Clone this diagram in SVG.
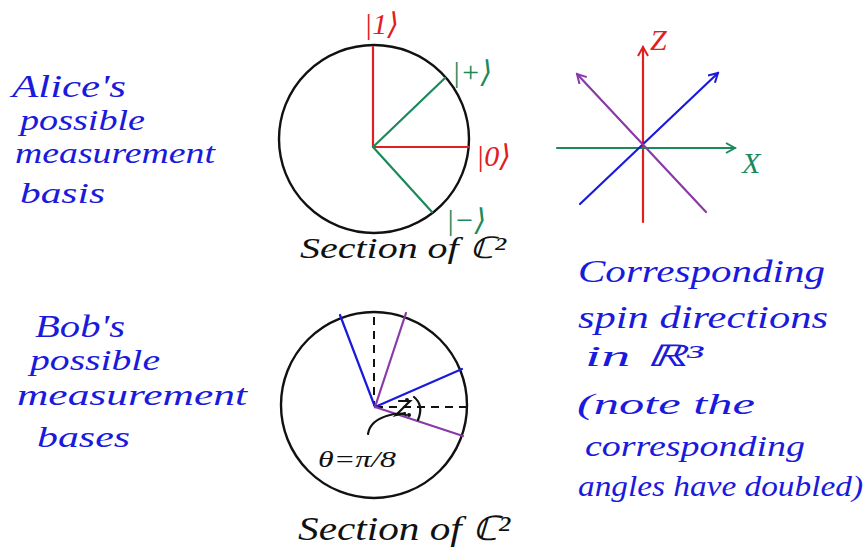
<svg xmlns="http://www.w3.org/2000/svg" width="865" height="553" viewBox="0 0 865 553">
<defs>
<style>
.hand{font-family:"Liberation Serif","DejaVu Serif",serif;font-style:italic}
.blue{fill:#1a1adc}
.red{fill:#e02020}
.green{fill:#1a8a5a}
.blk{fill:#111}
.ln{fill:none;stroke-width:2.2;stroke-linecap:round}
.circ{fill:none;stroke:#111;stroke-width:2.4}
.dash{fill:none;stroke:#111;stroke-width:2;stroke-dasharray:8 6}
</style>
<marker id="ah-r" viewBox="0 0 12 12" refX="10" refY="6" markerWidth="12" markerHeight="12" markerUnits="userSpaceOnUse" orient="auto"><path d="M1,1 L10,6 L1,11" fill="none" stroke="#e02020" stroke-width="2"/></marker>
<marker id="ah-g" viewBox="0 0 12 12" refX="10" refY="6" markerWidth="12" markerHeight="12" markerUnits="userSpaceOnUse" orient="auto"><path d="M1,1 L10,6 L1,11" fill="none" stroke="#1a8a5a" stroke-width="2"/></marker>
<marker id="ah-b" viewBox="0 0 12 12" refX="10" refY="6" markerWidth="12" markerHeight="12" markerUnits="userSpaceOnUse" orient="auto"><path d="M1,1 L10,6 L1,11" fill="none" stroke="#1a1adc" stroke-width="2"/></marker>
<marker id="ah-p" viewBox="0 0 12 12" refX="10" refY="6" markerWidth="12" markerHeight="12" markerUnits="userSpaceOnUse" orient="auto"><path d="M1,1 L10,6 L1,11" fill="none" stroke="#8a3aa8" stroke-width="2"/></marker>
</defs>
<rect width="865" height="553" fill="#fff"/>

<g id="alice-label" class="hand blue">
<text x="12" y="97" font-size="32" textLength="114" lengthAdjust="spacingAndGlyphs">Alice's</text>
<text x="20" y="130" font-size="30" textLength="125" lengthAdjust="spacingAndGlyphs">possible</text>
<text x="15" y="163" font-size="30" textLength="200" lengthAdjust="spacingAndGlyphs">measurement</text>
<text x="20" y="203" font-size="30" textLength="85" lengthAdjust="spacingAndGlyphs">basis</text>
</g>

<g id="bob-label" class="hand blue">
<text x="35" y="337" font-size="32" textLength="90" lengthAdjust="spacingAndGlyphs">Bob's</text>
<text x="30" y="370" font-size="30" textLength="130" lengthAdjust="spacingAndGlyphs">possible</text>
<text x="17" y="405" font-size="30" textLength="230" lengthAdjust="spacingAndGlyphs">measurement</text>
<text x="37" y="447" font-size="30" textLength="93" lengthAdjust="spacingAndGlyphs">bases</text>
</g>

<g id="alice-circle">
<ellipse class="circ" cx="374" cy="139" rx="95" ry="94"/>
<line class="ln" stroke="#e02020" x1="373" y1="147" x2="373" y2="47"/>
<line class="ln" stroke="#e02020" x1="373" y1="147" x2="469" y2="147"/>
<line class="ln" stroke="#1a8a5a" x1="373" y1="147" x2="445" y2="78"/>
<line class="ln" stroke="#1a8a5a" x1="373" y1="147" x2="432" y2="212"/>
<text class="hand red" x="364" y="34" font-size="30">|1⟩</text>
<text class="hand green" x="452" y="82" font-size="30">|+⟩</text>
<text class="hand red" x="476" y="166" font-size="30">|0⟩</text>
<text class="hand green" x="446" y="230" font-size="30">|−⟩</text>
<text class="hand blk" x="300" y="258" font-size="30" textLength="206" lengthAdjust="spacingAndGlyphs">Section of ℂ²</text>
</g>

<g id="bob-circle">
<circle class="circ" cx="374" cy="405" r="93"/>
<line class="dash" x1="374" y1="317" x2="374" y2="406"/>
<line class="dash" x1="375" y1="407" x2="466" y2="407"/>
<line class="ln" stroke="#1a1adc" x1="375" y1="407" x2="340" y2="315"/>
<line class="ln" stroke="#8a3aa8" x1="375" y1="407" x2="406" y2="313"/>
<line class="ln" stroke="#1a1adc" x1="375" y1="407" x2="462" y2="369"/>
<line class="ln" stroke="#8a3aa8" x1="375" y1="407" x2="463" y2="436"/>
<path class="ln" stroke="#111" d="M414,397 Q424,405 418,420"/>
<circle cx="407" cy="400" r="2" fill="#111"/>
<circle cx="409" cy="415" r="2" fill="#111"/>
<path class="ln" stroke="#111" d="M399,401 L410,401 L396,415 L405,413"/>
<path class="ln" stroke="#111" d="M368,434 Q370,420 390,415 Q400,412 406,415"/>
<text class="hand blk" x="318" y="467" font-size="24" textLength="78" lengthAdjust="spacingAndGlyphs">θ=π/8</text>
<text class="hand blk" x="298" y="540" font-size="34" textLength="212" lengthAdjust="spacingAndGlyphs">Section of ℂ²</text>
</g>

<g id="axes">
<line class="ln" stroke="#e02020" x1="643" y1="222" x2="643" y2="47" marker-end="url(#ah-r)"/>
<line class="ln" stroke="#1a8a5a" x1="557" y1="148" x2="735" y2="148" marker-end="url(#ah-g)"/>
<line class="ln" stroke="#1a1adc" x1="580" y1="204" x2="718" y2="73" marker-end="url(#ah-b)"/>
<line class="ln" stroke="#8a3aa8" x1="706" y1="212" x2="577" y2="74" marker-end="url(#ah-p)"/>
<text class="hand red" x="650" y="50" font-size="30">Z</text>
<text class="hand green" x="742" y="173" font-size="30">X</text>
</g>

<g id="spin-label" class="hand blue">
<text x="578" y="282" font-size="32" textLength="247" lengthAdjust="spacingAndGlyphs">Corresponding</text>
<text x="578" y="328" font-size="32" textLength="250" lengthAdjust="spacingAndGlyphs">spin directions</text>
<text x="585" y="366" font-size="30" textLength="118" lengthAdjust="spacingAndGlyphs">in ℝ³</text>
<text x="577" y="414" font-size="30" textLength="178" lengthAdjust="spacingAndGlyphs">(note the</text>
<text x="585" y="456" font-size="30" textLength="220" lengthAdjust="spacingAndGlyphs">corresponding</text>
<text x="578" y="496" font-size="30" textLength="285" lengthAdjust="spacingAndGlyphs">angles have doubled)</text>
</g>
</svg>
